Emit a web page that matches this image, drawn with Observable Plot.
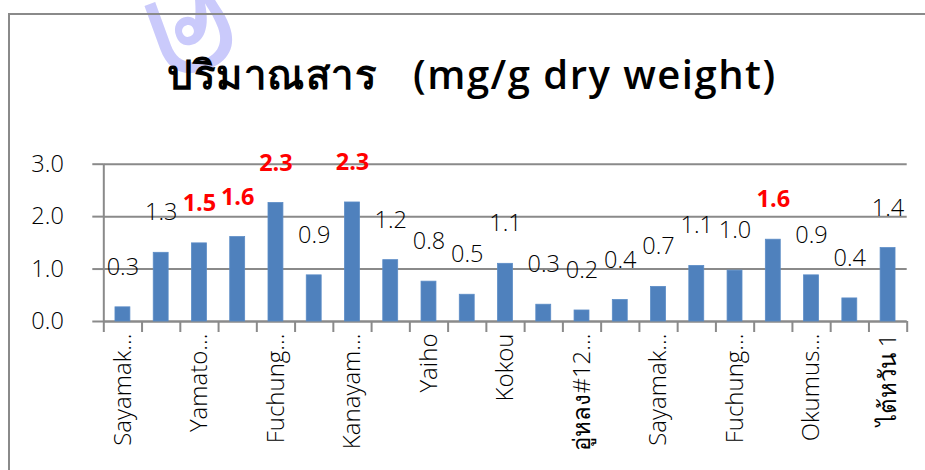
<!DOCTYPE html>
<html>
<head>
<meta charset="utf-8">
<script src="https://cdn.jsdelivr.net/npm/d3@7"></script>
<script src="https://cdn.jsdelivr.net/npm/@observablehq/plot@0.6"></script>
<style>
  html, body { margin: 0; padding: 0; background: #fff; }
  #wrap { position: relative; width: 925px; height: 470px; overflow: hidden; background: #fff;
          font-family: "Open Sans", "Noto Sans", "DejaVu Sans", sans-serif; }
  #frame { position: absolute; left: 8px; top: 13px; width: 940px; height: 480px;
           border-top: 2px solid #8a8a8a; border-left: 2px solid #8a8a8a; }
  #watermark { position: absolute; left: 100px; top: -62px; font-size: 145px; color: #cacafb;
               transform: rotate(160deg); transform-origin: 70px 95px; line-height: 1; font-weight: 300; }
  #title { position: absolute; left: 0; top: 43px; width: 944px; text-align: center;
           font-size: 40px; font-weight: 600; letter-spacing: 1.5px; color: #000; white-space: pre; }
  #chart { position: absolute; left: 0; top: 140px; }
</style>
</head>
<body>
<div id="wrap">
  <div id="watermark">ค</div>
  <div id="frame"></div>
  <div id="title">ปริมาณสาร   (mg/g dry weight)</div>
  <div id="chart"></div>
</div>
<script>
const tickLabels = ["Sayamak…", "Yamato…", "Fuchung…", "Kanayam…", "Yaiho", "Kokou",
                    "อู่หลง#12…", "Sayamak…", "Fuchung…", "Okumus…", "ไต้หวัน 1"];
const values = [0.27, 1.31, 1.49, 1.61, 2.26, 0.88, 2.27, 1.17, 0.76, 0.51, 1.10,
                0.32, 0.21, 0.41, 0.66, 1.06, 0.97, 1.56, 0.88, 0.44, 1.40];
const highlighted = [2, 3, 4, 6, 17];
const yTicks = [0, 1, 2, 3];

const data = values.map((v, i) => ({ i, v, hl: highlighted.includes(i) }));
const boundaries = d3.range(values.length + 1);
const labelPos = tickLabels.map((t, k) => 2 * k + 0.5);
const gray = "#8a8a8a";

const chart = Plot.plot({
  width: 925,
  height: 330,
  marginLeft: 103.3,
  marginRight: 18.3,
  marginTop: 23.7,
  marginBottom: 149,
  x: { domain: [0, values.length] },
  y: { domain: [0, 3] },
  style: { fontFamily: '"Open Sans", "Noto Sans", "DejaVu Sans", sans-serif', fontSize: "23.5px", color: "#000", background: "transparent" },
  marks: [
    Plot.gridY(yTicks, { stroke: gray, strokeOpacity: 1, strokeWidth: 2 }),
    Plot.axisY({ ticks: yTicks, tickSize: 11, tickPadding: 29, tickFormat: d => d.toFixed(1), label: null,
                 stroke: gray, strokeWidth: 2, fill: "#000", fontWeight: 300 }),
    Plot.axisX({ ticks: boundaries, tickSize: 11, tickFormat: () => "", label: null, stroke: gray, strokeWidth: 2 }),
    Plot.ruleX([0], { stroke: gray, strokeWidth: 2 }),
    Plot.ruleY([0], { stroke: gray, strokeWidth: 2 }),
    Plot.rectY(data, { x1: d => d.i + 0.305, x2: d => d.i + 0.695, y: "v", fill: "#4f81bd", stroke: "#5b8cc6", strokeWidth: 0.8 }),
    Plot.text(data.filter(d => !d.hl), { x: d => d.i + 0.5, y: "v", text: d => d.v.toFixed(1), dy: -40,
                 fill: "#000", fontWeight: 300 }),
    Plot.text(data.filter(d => d.hl), { x: d => d.i + 0.5, y: "v", text: d => d.v.toFixed(1), dy: -40,
                 fill: "#ff0000", fontWeight: "bold" }),
    Plot.axisX({ ticks: labelPos, tickSize: 0, tickRotate: -90, tickPadding: 12, label: null,
                 tickFormat: d => tickLabels[Math.round((d - 0.5) / 2)], fill: "#000", fontWeight: 300, fontSize: "24px" })
  ]
});
document.getElementById("chart").appendChild(chart);
</script>
</body>
</html>
